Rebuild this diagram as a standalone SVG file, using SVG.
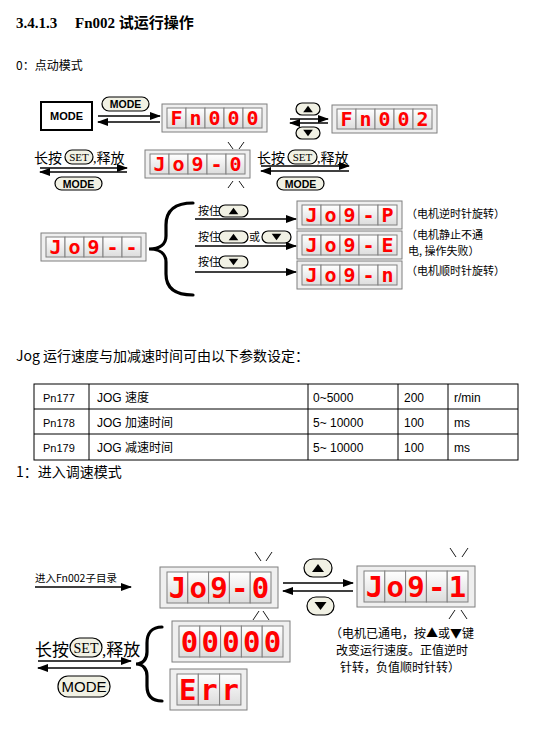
<svg xmlns="http://www.w3.org/2000/svg" xmlns:xlink="http://www.w3.org/1999/xlink" width="535" height="738" viewBox="0 0 535 738">
<style>
.cj{font-family:"Noto Sans CJK SC",sans-serif;fill:#000}
.sr{font-family:"Liberation Serif","Noto Sans CJK SC",serif;fill:#000}
.sa{font-family:"Liberation Sans","Noto Sans CJK SC",sans-serif;fill:#000}
.seg{font-family:"DejaVu Sans Mono",monospace;font-weight:bold;fill:#ff0000;text-anchor:middle}
.s1{font-size:20px}
.s2{font-size:29px}
.ar{stroke:#000;stroke-width:1.5;fill:none;marker-end:url(#ah)}
.pill{fill:#f1f1e4;stroke:#000;stroke-width:1.2}
.outer{fill:#efefef;stroke:#7f7f7f;stroke-width:1}
.cell{fill:url(#cg);stroke:#808080;stroke-width:1}
.sp{stroke:#000;stroke-width:0.9}
.brace{stroke:#000;stroke-width:3.2;fill:none;stroke-linecap:round}
</style>
<defs>
<linearGradient id="cg" x1="0" y1="0" x2="0" y2="1">
<stop offset="0" stop-color="#ffffff"/><stop offset="1" stop-color="#dcdcdc"/>
</linearGradient>
<marker id="ah" markerUnits="userSpaceOnUse" markerWidth="11" markerHeight="8" refX="10" refY="4" orient="auto">
<path d="M0,0 L11,4 L0,8 z" fill="#000"/>
</marker>
<g id="f5s">
<rect class="outer" x="0" y="0" width="105" height="28"/>
<rect class="cell" x="5" y="4" width="19" height="20"/>
<rect class="cell" x="24" y="4" width="19" height="20"/>
<rect class="cell" x="43" y="4" width="19" height="20"/>
<rect class="cell" x="62" y="4" width="19" height="20"/>
<rect class="cell" x="81" y="4" width="19" height="20"/>
</g>
<g id="f5l">
<rect class="outer" x="0" y="0" width="118" height="41"/>
<rect class="cell" x="7" y="5" width="20.8" height="31"/>
<rect class="cell" x="27.8" y="5" width="20.8" height="31"/>
<rect class="cell" x="48.6" y="5" width="20.8" height="31"/>
<rect class="cell" x="69.4" y="5" width="20.8" height="31"/>
<rect class="cell" x="90.2" y="5" width="20.8" height="31"/>
</g>
<g id="f3l">
<rect class="outer" x="0" y="0" width="77" height="41"/>
<rect class="cell" x="7" y="5" width="21.3" height="31"/>
<rect class="cell" x="28.3" y="5" width="21.3" height="31"/>
<rect class="cell" x="49.6" y="5" width="21.3" height="31"/>
</g>
<path id="tu" d="M-6,4 L6,4 L0,-4 z" fill="#000"/>
<path id="td" d="M-6,-4 L6,-4 L0,4 z" fill="#000"/>
</defs>
<rect width="535" height="738" fill="#fff"/>

<g id="headings">
<text class="sr" x="16" y="28" font-size="15" font-weight="bold">3.4.1.3</text>
<text class="sr" x="75" y="28" font-size="15" font-weight="bold">Fn002 试运行操作</text>
<text class="cj" x="16" y="70" font-size="12">0：点动模式</text>
<text class="cj" x="16" y="361" font-size="14">Jog 运行速度与加减速时间可由以下参数设定：</text>
<text class="cj" x="16" y="477" font-size="14">1：进入调速模式</text>
</g>

<g id="mode-box">
<rect x="41" y="102" width="51" height="28" fill="#fff" stroke="#000" stroke-width="2"/>
<text class="sa" x="66.5" y="120" font-size="11" font-weight="bold" text-anchor="middle">MODE</text>
</g>

<g id="fn000"><use xlink:href="#f5s" x="162" y="104"/>
<g transform="translate(162,104)" class="seg s1"><text x="14.5" y="21">F</text><text x="33.5" y="21">n</text><text x="52.5" y="21">0</text><text x="71.5" y="21">0</text><text x="90.5" y="21">0</text></g></g>

<g id="fn002"><use xlink:href="#f5s" x="332" y="105"/>
<g transform="translate(332,105)" class="seg s1"><text x="14.5" y="21">F</text><text x="33.5" y="21">n</text><text x="52.5" y="21">0</text><text x="71.5" y="21">0</text><text x="90.5" y="21">2</text></g></g>

<g id="jog0-top"><use xlink:href="#f5s" x="145" y="150"/>
<g transform="translate(145,150)" class="seg s1"><text x="14.5" y="21">J</text><text x="33.5" y="21">o</text><text x="52.5" y="21">9</text><text x="71.5" y="21">-</text><text x="90.5" y="21">0</text></g>
<line class="sp" x1="228" y1="142" x2="233" y2="149"/><line class="sp" x1="244" y1="142" x2="239" y2="149"/>
<line class="sp" x1="233" y1="181" x2="228" y2="188"/><line class="sp" x1="239" y1="181" x2="244" y2="188"/></g>

<g id="jogdash"><use xlink:href="#f5s" x="41" y="233"/>
<g transform="translate(41,233)" class="seg s1"><text x="14.5" y="21">J</text><text x="33.5" y="21">o</text><text x="52.5" y="21">9</text><text x="71.5" y="21">-</text><text x="90.5" y="21">-</text></g></g>

<g id="jogP"><use xlink:href="#f5s" x="297" y="201"/>
<g transform="translate(297,201)" class="seg s1"><text x="14.5" y="21">J</text><text x="33.5" y="21">o</text><text x="52.5" y="21">9</text><text x="71.5" y="21">-</text><text x="90.5" y="21">P</text></g></g>

<g id="jogE"><use xlink:href="#f5s" x="297" y="231"/>
<g transform="translate(297,231)" class="seg s1"><text x="14.5" y="21">J</text><text x="33.5" y="21">o</text><text x="52.5" y="21">9</text><text x="71.5" y="21">-</text><text x="90.5" y="21">E</text></g></g>

<g id="jogn"><use xlink:href="#f5s" x="297" y="261"/>
<g transform="translate(297,261)" class="seg s1"><text x="14.5" y="21">J</text><text x="33.5" y="21">o</text><text x="52.5" y="21">9</text><text x="71.5" y="21">-</text><text x="90.5" y="21">n</text></g></g>

<g id="notes-top" class="cj" font-size="11">
<text x="406" y="218">（电机逆时针旋转）</text>
<text x="406" y="239">（电机静止不通</text>
<text x="408" y="255">电, 操作失败）</text>
<text x="406" y="275">（电机顺时针旋转）</text>
</g>

<g id="keys-top">
<rect class="pill" x="102" y="97" width="47" height="14" rx="7"/>
<text class="sa" x="125.5" y="108" font-size="10.5" font-weight="bold" text-anchor="middle">MODE</text>
<rect class="pill" x="296" y="103" width="24" height="12" rx="6"/><use xlink:href="#tu" transform="translate(308,109) scale(0.8)"/>
<rect class="pill" x="296" y="127" width="24" height="12" rx="6"/><use xlink:href="#td" transform="translate(308,133) scale(0.8)"/>
<text class="cj" x="34" y="163" font-size="14">长按</text>
<rect class="pill" x="65" y="150" width="28" height="14" rx="7"/>
<text class="sr" x="79" y="161" font-size="11" text-anchor="middle">SET</text>
<text class="sr" x="93" y="163" font-size="14">,释放</text>
<rect class="pill" x="55" y="177" width="47" height="13" rx="6.5"/>
<text class="sa" x="78.5" y="187.5" font-size="10.5" font-weight="bold" text-anchor="middle">MODE</text>
<text class="cj" x="257" y="163" font-size="14">长按</text>
<rect class="pill" x="288" y="150" width="29" height="14" rx="7"/>
<text class="sr" x="302.5" y="161" font-size="11" text-anchor="middle">SET</text>
<text class="sr" x="317" y="163" font-size="14">,释放</text>
<rect class="pill" x="277" y="177" width="47" height="13" rx="6.5"/>
<text class="sa" x="300.5" y="187.5" font-size="10.5" font-weight="bold" text-anchor="middle">MODE</text>
<text class="cj" x="198" y="215" font-size="11">按住</text>
<rect class="pill" x="219" y="205" width="29" height="12" rx="6"/><use xlink:href="#tu" transform="translate(233.5,211) scale(0.8)"/>
<text class="cj" x="198" y="241" font-size="11">按住</text>
<rect class="pill" x="219" y="231" width="29" height="12" rx="6"/><use xlink:href="#tu" transform="translate(233.5,237) scale(0.8)"/>
<text class="cj" x="249" y="241" font-size="11">或</text>
<rect class="pill" x="262" y="231" width="29" height="12" rx="6"/><use xlink:href="#td" transform="translate(276.5,237) scale(0.8)"/>
<text class="cj" x="198" y="266" font-size="11">按住</text>
<rect class="pill" x="219" y="256" width="29" height="12" rx="6"/><use xlink:href="#td" transform="translate(233.5,262) scale(0.8)"/>
</g>

<g id="table">
<rect x="34" y="384" width="484" height="76" fill="none" stroke="#000" stroke-width="1"/>
<line x1="34" y1="409" x2="518" y2="409" stroke="#000"/>
<line x1="34" y1="434" x2="518" y2="434" stroke="#000"/>
<line x1="89" y1="384" x2="89" y2="460" stroke="#000"/>
<line x1="308" y1="384" x2="308" y2="460" stroke="#000"/>
<line x1="398" y1="384" x2="398" y2="460" stroke="#000"/>
<line x1="448" y1="384" x2="448" y2="460" stroke="#000"/>
<g class="sa" font-size="11">
<text x="43" y="402">Pn177</text><text x="43" y="427">Pn178</text><text x="43" y="452">Pn179</text>
</g>
<g class="sa" font-size="12">
<text x="97" y="402">JOG 速度</text><text x="97" y="427">JOG 加速时间</text><text x="97" y="452">JOG 减速时间</text>
<text x="313" y="402">0~5000</text><text x="313" y="427">5~ 10000</text><text x="313" y="452">5~ 10000</text>
<text x="404" y="402">200</text><text x="404" y="427">100</text><text x="404" y="452">100</text>
<text x="454" y="402">r/min</text><text x="454" y="427">ms</text><text x="454" y="452">ms</text>
</g>
</g>

<g id="jog0-bottom"><use xlink:href="#f5l" x="160" y="567"/>
<g transform="translate(160,567)" class="seg s2"><text x="17.4" y="31">J</text><text x="38.2" y="31">o</text><text x="59" y="31">9</text><text x="79.8" y="31">-</text><text x="100.6" y="31">0</text></g>
<line class="sp" x1="255" y1="552" x2="261" y2="561"/><line class="sp" x1="272" y1="552" x2="266" y2="561"/>
<line class="sp" x1="259" y1="611" x2="253" y2="620"/><line class="sp" x1="263" y1="611" x2="269" y2="620"/></g>

<g id="zeros"><use xlink:href="#f5l" x="172" y="621"/>
<g transform="translate(172,621)" class="seg s2"><text x="17.4" y="31">0</text><text x="38.2" y="31">0</text><text x="59" y="31">0</text><text x="79.8" y="31">0</text><text x="100.6" y="31">0</text></g></g>

<g id="err"><use xlink:href="#f3l" x="170" y="669"/>
<g transform="translate(170,669)" class="seg s2"><text x="17.65" y="31">E</text><text x="38.95" y="31">r</text><text x="60.25" y="31">r</text></g></g>

<g id="jog1"><use xlink:href="#f5l" x="357" y="566"/>
<g transform="translate(357,566)" class="seg s2"><text x="17.4" y="31">J</text><text x="38.2" y="31">o</text><text x="59" y="31">9</text><text x="79.8" y="31">-</text><text x="100.6" y="31">1</text></g>
<line class="sp" x1="450" y1="548" x2="456" y2="557"/><line class="sp" x1="468" y1="548" x2="462" y2="557"/>
<line class="sp" x1="455" y1="610" x2="449" y2="619"/><line class="sp" x1="461" y1="610" x2="467" y2="619"/></g>

<g id="keys-bottom">
<text class="cj" x="35" y="582" font-size="10.5">进入Fn002子目录</text>
<text class="cj" x="35" y="656" font-size="17">长按</text>
<rect class="pill" x="70" y="638" width="32" height="19" rx="9.5"/>
<text class="sr" x="86" y="652.5" font-size="14" text-anchor="middle">SET</text>
<text class="sr" x="102" y="656" font-size="17">,释放</text>
<rect class="pill" x="58" y="676" width="52" height="21" rx="10"/>
<text class="sa" x="84" y="692" font-size="15" text-anchor="middle">MODE</text>
<rect class="pill" x="304" y="559" width="28" height="18" rx="9"/><use xlink:href="#tu" transform="translate(318,568)"/>
<rect class="pill" x="307" y="597" width="27" height="18" rx="9"/><use xlink:href="#td" transform="translate(320.5,606)"/>
</g>

<g id="note-bottom" class="cj" font-size="12" text-anchor="middle">
<text x="402" y="638">（电机已通电，按▲或▼键</text>
<text x="402" y="655">改变运行速度。正值逆时</text>
<text x="400" y="672">针转，负值顺时针转）</text>
</g>

<g id="connectors">
<line class="ar" x1="98" y1="116" x2="160" y2="116"/>
<line class="ar" x1="160" y1="122" x2="98" y2="122"/>
<line class="ar" x1="290" y1="119" x2="328" y2="119"/>
<line class="ar" x1="328" y1="123" x2="290" y2="123"/>
<line class="ar" x1="40" y1="168" x2="127" y2="168"/>
<line class="ar" x1="127" y1="172" x2="40" y2="172"/>
<line class="ar" x1="261" y1="166" x2="349" y2="166"/>
<line class="ar" x1="349" y1="171" x2="261" y2="171"/>
<line class="ar" x1="195" y1="219" x2="296" y2="219"/>
<line class="ar" x1="195" y1="246" x2="296" y2="246"/>
<line class="ar" x1="195" y1="272" x2="296" y2="272"/>
<path class="brace" d="M193,203 C175,203 166,210 166,225 L166,236 C166,244 160,249 149,249 C160,249 166,254 166,262 L166,274 C166,288 175,295 193,295"/>
<line class="ar" x1="35" y1="587" x2="131" y2="587"/>
<line class="ar" x1="38" y1="661" x2="131" y2="661"/>
<line class="ar" x1="131" y1="668" x2="38" y2="668"/>
<path class="brace" d="M162,627 C152,627 147,633 147,643 L147,652 C147,659 143,664 136,664 C143,664 147,669 147,676 L147,686 C147,696 152,701 162,701"/>
<line class="ar" x1="283" y1="583" x2="353" y2="583"/>
<line class="ar" x1="353" y1="591" x2="283" y2="591"/>
</g>
</svg>
